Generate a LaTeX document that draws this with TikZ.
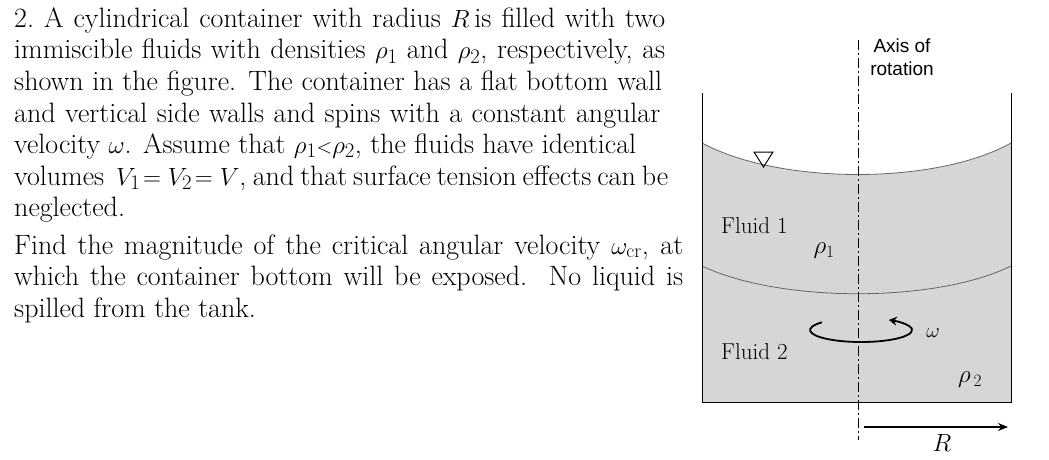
\documentclass[tikz,border=0pt]{standalone}
\usepackage{fontspec}
\newfontfamily\arialfont{Liberation Sans}
\usetikzlibrary{arrows.meta}
\tikzset{txt/.style={anchor=base west,inner sep=0pt,font=\fontsize{28}{32}\selectfont},
 lab/.style={inner sep=0pt,font=\fontsize{23}{26}\selectfont},
 sans/.style={inner sep=0pt,font=\arialfont\fontsize{19}{23}\selectfont,align=center}}
\begin{document}
\begin{tikzpicture}[x=1pt,y=-1pt]
\useasboundingbox (0,0) rectangle (1049,460);
% text
\node[txt] (l1) at (14,28) {\hbox to 651pt{2.\ A cylindrical container with radius $R$\,is filled with two}};
\node[txt] (l2) at (14,59) {\hbox to 651pt{immiscible fluids with densities $\rho_1$ and $\rho_2$, respectively, as}};
\node[txt] (l3) at (14,90) {\hbox to 648pt{shown in the figure. The container has a flat bottom wall}};
\node[txt] (l4) at (14,122) {\hbox to 646pt{and vertical side walls and spins with a constant angular}};
\node[txt] (l5) at (14,153) {\hbox to 622pt{velocity $\omega$. Assume that $\rho_1{\scriptstyle<}\rho_2$, the fluids have identical}};
\node[txt] (l6) at (14,185) {\hbox to 654pt{volumes \ $V_1\!=V_2\!=V$, and that surface tension effects can be}};
\node[txt] (l7) at (14,216) {neglected.};
\node[txt] (l8) at (14,254) {\hbox to 669pt{Find the magnitude of the critical angular velocity $\omega_{\mathrm{cr}}$, at}};
\node[txt] (l9) at (14,285) {\hbox to 669pt{which the container bottom will be exposed.\ \ No liquid is}};
\node[txt] (l10) at (14,317) {spilled from the tank.};
% fluids
\fill[gray!32] (702,143) .. controls (780,185) and (936,185) .. (1011,143) -- (1011,402) -- (702,402) -- cycle;
\draw[gray!80!black,line width=0.8pt] (702,143) .. controls (780,185) and (936,185) .. (1011,143);
\draw[gray!80!black,line width=0.8pt] (702,266) .. controls (780,303) and (936,303) .. (1011,266);
% container
\draw[line width=1pt] (702,93) -- (702,402) -- (1011,402) -- (1011,93);
% axis
\draw[line width=0.8pt,dash pattern=on 10pt off 3pt on 2pt off 3pt] (858,40) -- (858,440);
\node[sans] (ax) at (902,57) {Axis of\\rotation};
% free surface symbol
\draw[line width=1pt] (754,152) -- (773,152) -- (763.5,167) -- cycle;
\node[lab,anchor=west] (f1) at (721,226) {Fluid 1};
\node[lab,anchor=west] (f2) at (721,352) {Fluid 2};
\node[lab] (r1) at (824,251) {$\rho_1$};
\node[lab] (r2) at (970,380) {$\rho_{\,2}$};
\node[lab,font=\fontsize{21}{24}\selectfont] (w) at (933,333) {$\omega$};
% rotation arrow
\draw[line width=1.8pt,-{Stealth[length=8pt,width=9pt]}] (822,322.3) arc[start angle=-140,end angle=-417,x radius=51,y radius=12];
% R arrow
\coordinate (ra) at (864,427);
\coordinate (rb) at (1008,427);
\draw[line width=1.3pt,-{Stealth[length=10pt,width=8pt]}] (ra) -- (rb);
\node[lab] (R) at (942,443) {$R$};
\end{tikzpicture}
\end{document}
